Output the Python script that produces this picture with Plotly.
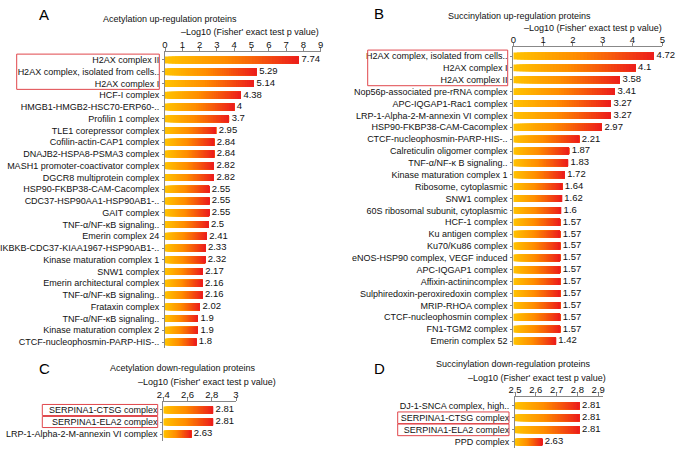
import plotly.graph_objects as go

W, H = 677, 453

# ---------------- data ----------------
labels_A = ["H2AX complex II", "H2AX complex, isolated from cells..", "H2AX complex I", "HCF-I complex",
            "HMGB1-HMGB2-HSC70-ERP60-..", "Profilin 1 complex", "TLE1 corepressor complex",
            "Cofilin-actin-CAP1 complex", "DNAJB2-HSPA8-PSMA3 complex", "MASH1 promoter-coactivator complex",
            "DGCR8 multiprotein complex", "HSP90-FKBP38-CAM-Cacomplex", "CDC37-HSP90AA1-HSP90AB1-..",
            "GAIT complex", "TNF-α/NF-κB signaling..", "Emerin complex 24", "IKBKB-CDC37-KIAA1967-HSP90AB1-..",
            "Kinase maturation complex 1", "SNW1 complex", "Emerin architectural complex",
            "TNF-α/NF-κB signaling..", "Frataxin complex", "TNF-α/NF-κB signaling..",
            "Kinase maturation complex 2", "CTCF-nucleophosmin-PARP-HIS-.."]
values_A = [7.74, 5.29, 5.14, 4.38, 4, 3.7, 2.95, 2.84, 2.84, 2.82, 2.82, 2.55, 2.55, 2.55, 2.5, 2.41,
            2.33, 2.32, 2.17, 2.16, 2.16, 2.02, 1.9, 1.9, 1.8]

labels_B = ["H2AX complex, isolated from cells..", "H2AX complex I", "H2AX complex II",
            "Nop56p-associated pre-rRNA complex", "APC-IQGAP1-Rac1 complex", "LRP-1-Alpha-2-M-annexin VI complex",
            "HSP90-FKBP38-CAM-Cacomplex", "CTCF-nucleophosmin-PARP-HIS-..", "Calreticulin oligomer complex",
            "TNF-α/NF-κ B signaling..", "Kinase maturation complex 1", "Ribosome, cytoplasmic", "SNW1 complex",
            "60S ribosomal subunit, cytoplasmic", "HCF-1 complex", "Ku antigen complex", "Ku70/Ku86 complex",
            "eNOS-HSP90 complex, VEGF induced", "APC-IQGAP1 complex", "Affixin-actinincomplex",
            "Sulphiredoxin-peroxiredoxin complex", "MRIP-RHOA complex", "CTCF-nucleophosmin complex",
            "FN1-TGM2 complex", "Emerin complex 52"]
values_B = [4.72, 4.1, 3.58, 3.41, 3.27, 3.27, 2.97, 2.21, 1.87, 1.83, 1.72, 1.64, 1.62, 1.6,
            1.57, 1.57, 1.57, 1.57, 1.57, 1.57, 1.57, 1.57, 1.57, 1.57, 1.42]

labels_C = ["SERPINA1-CTSG complex", "SERPINA1-ELA2 complex", "LRP-1-Alpha-2-M-annexin VI complex"]
values_C = [2.81, 2.81, 2.63]

labels_D = ["DJ-1-SNCA complex, high..", "SERPINA1-CTSG complex", "SERPINA1-ELA2 complex", "PPD complex"]
values_D = [2.81, 2.81, 2.81, 2.63]

ticks_A = [0, 1, 2, 3, 4, 5, 6, 7, 8, 9]
ticks_B = [0, 1, 2, 3, 4, 5]
ticks_C = [2.4, 2.6, 2.8, 3]
ticks_D = [2.5, 2.6, 2.7, 2.8, 2.9]

titles = ["Acetylation up-regulation proteins", "Succinylation up-regulation proteins",
          "Acetylation down-regulation proteins", "Succinylation down-regulation proteins"]
axis_title = "–Log10 (Fisher' exact test p value)"
letters = ["A", "B", "C", "D"]
highlight_A = [[0, 2]]
highlight_B = [[0, 2]]
highlight_C = [[0, 0], [1, 1]]
highlight_D = [[1, 1], [2, 2]]

# ---------------- layout helpers ----------------
FONT = "Liberation Sans, Arial, sans-serif"


def fx(p):
    return p / W


def fy(p):
    return 1 - p / H


panels = [
    dict(labels=labels_A, values=values_A, ticks=ticks_A, xr=[0, 9], xdom=(165, 320.7), ydom=(52, 348),
         yr=[24.51, -0.68], title_xy=(170, 19), atitle_xy=(250, 32), letter_xy=(44, 14),
         boxes=highlight_A, box_x=(16.7, 159.3), boxpad=0.5),
    dict(labels=labels_B, values=values_B, ticks=ticks_B, xr=[0, 5], xdom=(513.3, 662.3), ydom=(47, 346),
         yr=[24.42, -0.76], title_xy=(519, 16), atitle_xy=(593, 28.5), letter_xy=(379, 13),
         boxes=highlight_B, box_x=(367.7, 507.7), boxpad=0.5),
    dict(labels=labels_C, values=values_C, ticks=ticks_C, xr=[2.4, 3.0], xdom=(163.3, 236), ydom=(401.7, 441),
         yr=[2.58, -0.69], title_xy=(183, 368), atitle_xy=(207, 382), letter_xy=(44.5, 368),
         boxes=highlight_C, box_x=(42.3, 157.7), boxpad=0.46),
    dict(labels=labels_D, values=values_D, ticks=ticks_D, xr=[2.5, 2.923], xdom=(515, 603), ydom=(396.7, 448),
         yr=[3.5, -0.74], title_xy=(513, 364), atitle_xy=(537, 378), letter_xy=(380, 368),
         boxes=highlight_D, box_x=(397.7, 509), boxpad=0.48),
]

stops = [(0.0, (255, 196, 0)), (0.45, (255, 140, 0)), (1.0, (236, 28, 28))]


def grad(t):
    for (t0, c0), (t1, c1) in zip(stops[:-1], stops[1:]):
        if t <= t1:
            u = (t - t0) / (t1 - t0)
            return "rgb(%d,%d,%d)" % tuple(round(a + (b - a) * u) for a, b in zip(c0, c1))
    return "rgb(%d,%d,%d)" % stops[-1][1]


N = 40
fig = go.Figure()
annotations = []
shapes = []
layout = {}

for i, p in enumerate(panels):
    sfx = "" if i == 0 else str(i + 1)
    xa, ya = "x" + sfx, "y" + sfx
    idx = list(range(len(p["values"])))
    xmin = p["xr"][0]
    # gradient: each layer starts further right and runs to the bar end, later layers on top
    for k in range(N):
        fig.add_trace(go.Bar(
            x=[(v - xmin) * (N - k) / N for v in p["values"]],
            base=[xmin + (v - xmin) * k / N for v in p["values"]],
            y=idx, orientation="h", width=0.58,
            marker=dict(color=grad((k + 0.5) / N), line=dict(width=0)),
            xaxis=xa, yaxis=ya, showlegend=False, hoverinfo="skip"))
    fig.add_trace(go.Scatter(
        x=p["values"], y=idx, mode="text", text=[" " + f"{v:g}" for v in p["values"]],
        textposition="middle right", textfont=dict(size=9.5, color="#111", family=FONT),
        xaxis=xa, yaxis=ya, showlegend=False, cliponaxis=False, hoverinfo="skip"))

    layout["xaxis" + sfx] = dict(
        domain=[fx(p["xdom"][0]), fx(p["xdom"][1])], range=p["xr"], side="top", anchor=ya,
        tickvals=p["ticks"], ticktext=[f"{t:g}" for t in p["ticks"]], ticks="outside", ticklen=3,
        tickcolor="#888", showline=True, linecolor="#888", linewidth=1, showgrid=False, zeroline=False,
        tickfont=dict(size=9.5, color="#111", family=FONT), ticklabelstandoff=-4,
        fixedrange=True, automargin=False)
    layout["yaxis" + sfx] = dict(
        domain=[fy(p["ydom"][1]), fy(p["ydom"][0])], range=p["yr"], anchor=xa,
        tickvals=idx, ticktext=p["labels"], ticks="outside", ticklen=2, tickcolor="#888",
        showline=True, linecolor="#888", linewidth=1, showgrid=False, zeroline=False,
        tickfont=dict(size=9, color="#111", family=FONT), ticklabelstandoff=1,
        fixedrange=True, automargin=False)

    tx, ty = p["title_xy"]
    annotations.append(dict(x=fx(tx), y=fy(ty), xref="paper", yref="paper", text=titles[i], showarrow=False,
                            xanchor="center", yanchor="middle", font=dict(size=9, color="#111", family=FONT)))
    ax_, ay_ = p["atitle_xy"]
    annotations.append(dict(x=fx(ax_), y=fy(ay_), xref="paper", yref="paper", text=axis_title, showarrow=False,
                            xanchor="center", yanchor="middle", font=dict(size=9, color="#111", family=FONT)))
    lx, ly = p["letter_xy"]
    annotations.append(dict(x=fx(lx), y=fy(ly), xref="paper", yref="paper", text=letters[i], showarrow=False,
                            xanchor="center", yanchor="middle", font=dict(size=15, color="#000", family=FONT)))
    for a, b in p["boxes"]:
        shapes.append(dict(type="rect", xref="paper", yref=ya, x0=fx(p["box_x"][0]), x1=fx(p["box_x"][1]),
                           y0=a - p["boxpad"], y1=b + p["boxpad"], line=dict(color="#E0474C", width=1),
                           fillcolor="rgba(0,0,0,0)"))

fig.update_layout(width=W, height=H, margin=dict(l=0, r=0, t=0, b=0), barmode="overlay",
                  plot_bgcolor="white", paper_bgcolor="white", annotations=annotations, shapes=shapes,
                  font=dict(family=FONT), **layout)
fig.write_html("out.html")
